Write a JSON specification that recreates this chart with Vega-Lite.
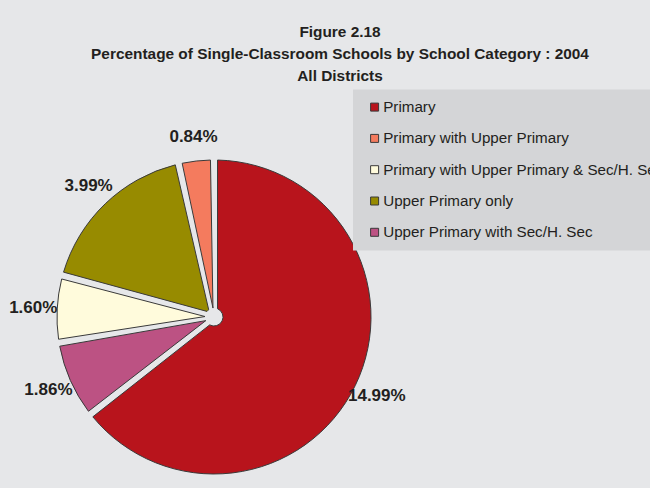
{
  "$schema": "https://vega.github.io/schema/vega-lite/v6.json",
  "autosize": "none",
  "width": 428,
  "height": 344,
  "padding": {"left": 0, "top": 145, "right": 222, "bottom": 0},
  "background": "#e6e7e9",
  "config": {
    "view": {"stroke": null},
    "font": "Liberation Sans"
  },
  "title": {
    "text": "Figure 2.18",
    "subtitle": ["Percentage of Single-Classroom Schools by School Category : 2004", "All Districts"],
    "anchor": "middle",
    "frame": "group",
    "dx": 126,
    "offset": 5,
    "font": "Liberation Sans",
    "fontSize": 15.4,
    "fontWeight": "bold",
    "color": "#231f20",
    "subtitleFont": "Liberation Sans",
    "subtitleFontSize": 15.4,
    "subtitleFontWeight": "bold",
    "subtitleColor": "#231f20",
    "subtitleLineHeight": 22,
    "subtitlePadding": 7
  },
  "data": {
    "values": [
      {"category": "Primary", "value": 0.1499, "slice": 1},
      {"category": "Upper Primary with Sec/H. Sec", "value": 0.0186, "slice": 2},
      {"category": "Primary with Upper Primary & Sec/H. Sec", "value": 0.016, "slice": 3},
      {"category": "Upper Primary only", "value": 0.0399, "slice": 4},
      {"category": "Primary with Upper Primary", "value": 0.0084, "slice": 5}
    ]
  },
  "encoding": {
    "theta": {"field": "value", "type": "quantitative", "stack": true},
    "order": {"field": "slice", "type": "quantitative"}
  },
  "layer": [
    {
      "mark": {"type": "arc", "outerRadius": 157, "innerRadius": 9, "padAngle": 0.045, "stroke": "#3a3a3a", "strokeWidth": 1},
      "encoding": {
        "color": {
          "field": "category",
          "type": "nominal",
          "scale": {
            "domain": ["Primary", "Primary with Upper Primary", "Primary with Upper Primary & Sec/H. Sec", "Upper Primary only", "Upper Primary with Sec/H. Sec"],
            "range": ["#b8141c", "#f47b5e", "#fffbdc", "#978b00", "#bc5283"]
          },
          "legend": {
            "orient": "none",
            "legendX": 353,
            "legendY": -55.5,
            "title": null,
            "fillColor": "#d4d5d7",
            "padding": 10,
            "symbolType": "square",
            "symbolSize": 64,
            "symbolStrokeColor": "#3a3a3a",
            "symbolStrokeWidth": 1,
            "symbolOpacity": 1,
            "symbolOffset": 4,
            "labelFont": "Liberation Sans",
            "labelFontSize": 15.2,
            "labelColor": "#231f20",
            "labelOffset": 1,
            "labelLimit": 600,
            "rowPadding": 15.3
          }
        }
      }
    },
    {
      "mark": {"type": "text", "radius": 181, "font": "Liberation Sans", "fontSize": 17, "fontWeight": "bold", "color": "#231f20"},
      "encoding": {
        "detail": {"field": "category", "type": "nominal"},
        "text": {"field": "value", "type": "quantitative", "format": ".2%"}
      }
    }
  ]
}
